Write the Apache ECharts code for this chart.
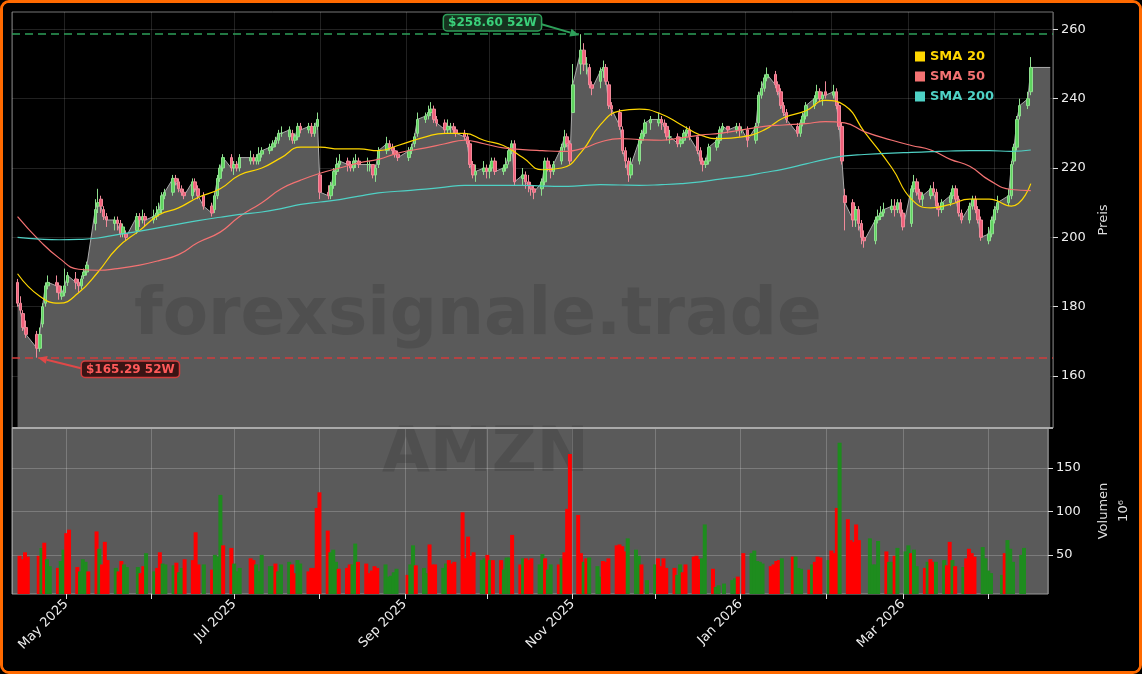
<!DOCTYPE html>
<html><head><meta charset="utf-8">
<script src="https://cdn.jsdelivr.net/npm/echarts@6/dist/echarts.min.js"></script>
<style>
html,body{margin:0;padding:0;background:#000;}
#wrap{width:1142px;height:674px;box-sizing:border-box;border:3px solid #ff6a00;border-radius:9px;background:#000;overflow:hidden;position:relative;}
#c{position:absolute;left:-3px;top:-3px;width:1142px;height:674px;}
</style></head><body>
<div id="wrap"><div id="c"></div></div>
<script>
// ---- data ----
const startDate = '2025-04-14', endDate = '2026-04-14';
const holidays = ['2025-04-18','2025-05-26','2025-06-19','2025-07-04','2025-09-01','2025-11-27','2025-12-25','2026-01-01','2026-01-19','2026-02-16','2026-04-03'];
const labelMonths = [0,2,4,6,8,10]; // Jan, Mar, May, Jul, Sep, Nov
const priceTicks = [160,180,200,220,240,260];
const volTicks = [50,100,150];

const closes = [
181,179,174,172,168,172,180,186,187,186,184,184,
186,189,187,186,188,190,192,208,210,209,206,205,205,204,201,203,200,206,205,206,205,
206,207,208,212,213,217,216,214,213,212,216,214,212,209,207,212,217,220,223,220,
221,220,223,223,222,223,224,225,226,227,228,230,230,231,228,229,232,231,232,230,232,234,
213,212,215,219,221,222,221,220,222,222,221,221,221,218,220,225,227,226,225,224,223,
225,226,229,234,235,236,237,234,233,231,232,232,231,230,229,227,221,218,219,220,219,
220,222,219,220,221,225,227,216,218,216,215,214,213,216,222,220,219,221,226,229,227,222,244,
254,250,250,244,243,248,249,245,238,237,232,225,222,218,221,228,230,233,234,
234,233,232,229,229,227,228,230,231,229,225,222,221,222,226,228,231,232,231,232,231,231,
228,232,241,243,246,247,244,242,238,236,234,230,233,235,238,240,242,240,241,241,
242,238,232,222,210,205,208,204,200,199,205,206,207,208,209,208,210,207,203,
214,216,213,211,212,214,213,209,208,210,212,214,211,207,205,209,211,208,205,200,201,205,
208,210,212,221,226,234,238,240,249];
const opens = [
187,181,178,174,172,168,175,181,186,187,186,183,
184,187,188,187,186,189,190,204,209,211,208,206,204,205,204,201,201,202,206,205,206,
205,206,207,208,212,213,217,216,214,213,212,216,214,212,209,208,212,217,220,223,
220,221,220,222,223,222,222,224,225,226,227,228,230,229,230,228,229,232,231,232,230,232,
218,213,212,215,219,221,222,221,220,222,222,221,221,221,218,221,225,227,226,225,224,
223,225,227,230,234,235,236,237,234,233,231,232,232,231,230,229,227,221,218,219,220,
219,220,222,219,220,222,225,227,217,218,216,215,214,214,216,222,220,219,222,226,229,227,236,
250,254,250,249,244,245,248,249,244,238,236,231,225,222,218,222,228,230,233,
233,234,233,232,229,229,227,228,230,231,229,225,222,221,222,226,228,231,232,231,232,231,
231,228,233,241,243,246,247,244,242,238,236,232,230,233,235,238,240,242,240,242,
241,242,238,232,212,210,205,208,204,200,199,205,206,207,208,209,208,210,207,
204,214,216,213,211,212,214,213,209,208,210,212,214,211,207,205,209,211,208,205,199,201,
205,208,210,212,222,226,235,238,242];
const highs = [
188,183,179,176,173,174,181,187,189,189,187,186,
191,190,190,188,189,191,193,211,214,212,209,207,206,206,205,204,202,207,207,208,207,
208,209,210,213,214,218,218,217,215,214,217,217,215,213,210,213,218,221,224,224,
222,222,224,225,224,224,226,226,227,228,229,231,232,232,231,230,233,233,233,233,233,236,
219,215,216,220,223,224,223,222,223,224,223,223,222,221,221,226,229,228,227,226,225,
226,227,230,236,236,238,239,238,235,234,234,233,233,232,231,230,228,222,221,222,221,
221,223,223,221,223,226,228,228,220,219,218,216,215,217,223,223,221,222,227,231,230,228,250,
258.6,256,252,250,245,249,251,250,245,239,237,232,226,223,223,229,231,234,235,
236,235,234,233,231,230,229,231,232,232,229,226,223,223,227,229,232,233,232,233,233,232,
232,233,242,245,247,249,248,245,243,239,237,233,234,236,239,241,244,243,242,245,
244,243,239,233,214,211,209,209,205,202,206,208,209,210,211,211,211,211,208,
215,218,217,214,213,215,216,214,210,211,213,215,215,212,208,210,212,212,209,206,203,206,
209,212,214,222,227,235,240,242,252];
const lows = [
180,178,173,171,165.29,167,174,180,185,184,182,182,
183,186,185,184,185,188,189,202,207,207,205,203,202,202,200,200,199,201,203,204,203,
204,205,206,207,211,212,215,213,212,211,211,213,211,208,206,207,211,216,219,219,
218,219,219,221,221,221,221,223,224,225,226,227,229,228,227,227,228,230,230,229,229,231,
211,211,211,214,218,220,219,219,219,220,220,219,219,217,216,220,224,225,224,223,222,
222,224,226,229,233,234,235,233,232,230,230,230,230,229,228,226,220,217,216,218,217,
217,219,218,218,219,221,224,215,215,214,213,212,211,212,215,219,217,218,221,225,226,221,236,
247,248,247,243,241,243,246,244,237,235,231,224,220,216,217,221,227,229,231,
232,231,230,228,227,226,226,227,229,228,224,221,219,220,221,225,227,230,230,230,229,230,
226,227,232,240,242,245,243,241,237,235,233,229,229,232,234,237,239,239,238,240,
240,237,231,221,202,203,203,202,198,197,198,204,205,206,207,206,207,206,202,
203,213,212,210,209,211,212,208,206,207,209,211,210,206,204,204,208,207,204,199,198,200,
204,207,209,211,221,225,234,237,241];
const volumes = [
49,45,53,48,49,58,64,45,37,35,43,56,
75,79,36,31,45,42,31,77,57,39,65,44,35,31,43,39,36,36,29,37,52,
31,35,53,40,39,38,41,30,35,45,44,76,39,39,33,50,48,119,61,58,
40,31,35,46,44,39,31,50,37,37,40,31,39,42,39,29,44,40,31,35,35,104,
122,78,53,56,42,34,35,39,39,63,42,40,29,32,37,35,39,25,26,30,34,
27,39,61,38,35,29,62,39,39,35,40,44,40,42,99,46,71,49,53,44,46,
50,44,44,44,33,47,47,73,39,46,46,44,46,39,51,46,33,39,39,46,53,103,166,
96,52,42,46,47,37,25,43,42,46,61,62,60,54,69,56,49,39,21,
39,46,37,46,35,35,27,39,30,39,48,49,45,46,85,34,13,15,17,21,23,25,
52,52,55,43,42,40,37,39,43,44,46,48,48,35,34,33,39,42,48,47,
44,55,52,104,179,91,67,65,85,67,69,39,39,66,54,42,42,49,58,
54,61,52,56,37,35,42,45,42,42,44,38,65,44,37,36,46,57,52,48,59,46,
32,29,27,52,67,57,42,50,58];
const volDir = 'rrrrrgrggrgg'+'rrrgggrrgrrrgrrgggrrg'+'grrgggrggrrrrgrgggrr'+'gggrrgggggrgggrrggrrrr'+
  'rrgggrrrggrrrrrrggggg'+'rggrggrrrggrrrrrrrrgg'+'rgrrgggrrgrrrggrggrgrrr'+'rrgrgggrrrrrrrgggrg'+
  'grrrrrggrrrrrggrgggggr'+'rgggggrrrrgrgggrgrrr'+'grrrgrrrrrggggrggrg'+'ggrggrgrrggrrgrgrrrrgg'+'gggrggggg';
// SMAs sampled every 5 trading days (index 0,5,...,250)
const sma20 = [189.5,183,181,184,190,197,202,206.5,208.5,211.5,214,218,220,223,226,226,225.5,225.5,225,226.5,229,230,230,228,226.5,223,219.5,220,224.5,232.5,236.5,237,235.5,232.5,229.5,228.5,229,231,234.5,236.5,239.5,238,230.5,220,211,208.5,209.5,211,211,209,215.5];
const sma50 = [206,199,194,190.8,190.5,191,192,193.3,195,198.5,201.5,206,210,214,216.5,218.5,220,221.5,222.5,224.3,225.8,227,228,227,225.8,225.3,225,224.8,225.5,227.5,228.5,228.2,228,228.7,229.5,230,231,232,232.4,232.8,233.4,233,230.5,228,226.5,225.2,222.5,220.5,216.5,213.8,213.5];
const sma200 = [200,199.5,199.3,199.4,199.8,200.8,201.8,202.8,203.8,204.8,205.8,206.6,207.3,208.3,209.5,210.2,210.9,211.9,212.8,213.3,213.9,214.5,215,215,215,215,214.8,214.7,214.9,215.2,215.1,215,215.2,215.5,216,216.8,217.6,218.7,219.7,221.2,222.5,223.5,223.9,224.3,224.5,224.7,224.9,225,225,224.8,225.2];
const high52 = 258.60, low52 = 165.29;
const areaTailDate = '2026-04-21';

// ---- build ----
function fmt(d){return d.getUTCFullYear()+'-'+String(d.getUTCMonth()+1).padStart(2,'0')+'-'+String(d.getUTCDate()).padStart(2,'0');}
const dates=[];
for(let d=new Date(startDate+'T00:00:00Z'); fmt(d)<=endDate; d.setUTCDate(d.getUTCDate()+1)){
  const w=d.getUTCDay(); const s=fmt(d);
  if(w===0||w===6||holidays.includes(s)) continue; dates.push(s);
}
const n=Math.min(dates.length,closes.length);
const candle=[],area=[],vol=[];
for(let i=0;i<n;i++){
  candle.push([dates[i],opens[i],closes[i],lows[i],highs[i]]);
  area.push([dates[i],closes[i]]);
  vol.push({value:[dates[i],volumes[i]],itemStyle:{color:volDir[i]==='g'?'#1e8c1e':'#ff0000'}});
}
area.push([areaTailDate,closes[n-1]]);
function smaPts(a){const r=[];a.forEach((v,k)=>{const i=Math.min(k*5,n-1);r.push([dates[i],v]);});return r;}
const ts=s=>new Date(s+'T00:00:00').getTime();
const MON=['Jan','Feb','Mar','Apr','May','Jun','Jul','Aug','Sep','Oct','Nov','Dec'];
const DAY=864e5;

const chart=echarts.init(document.getElementById('c'));
const xCommon={type:'time',min:ts('2025-04-12'),max:ts('2026-04-22'),minInterval:28*DAY,maxInterval:31*DAY,splitNumber:12,
  axisLine:{show:false}};
chart.setOption({
  backgroundColor:'#000',
  animation:false,
  textStyle:{fontFamily:'DejaVu Sans'},
  grid:[{left:12,top:12,width:1041,height:416,show:true,borderColor:'#777',borderWidth:1},
        {left:12,top:428,width:1041,height:166,show:true,borderColor:'#999',borderWidth:1,backgroundColor:'#5a5a5a'}],
  legend:{orient:'vertical',left:910,top:45,itemWidth:10,itemHeight:10,itemGap:7,icon:'rect',
    data:[{name:'SMA 20',textStyle:{color:'#ffd700'}},{name:'SMA 50',textStyle:{color:'#f47272'}},{name:'SMA 200',textStyle:{color:'#4fd1c5'}}],
    textStyle:{fontWeight:'bold',fontSize:13,fontFamily:'DejaVu Sans'}},
  xAxis:[Object.assign({},xCommon,{gridIndex:0,axisLabel:{show:false},axisTick:{show:false},splitLine:{show:true,lineStyle:{color:'rgba(255,255,255,0.13)'}}}),
         Object.assign({},xCommon,{gridIndex:1,splitLine:{show:true,lineStyle:{color:'rgba(255,255,255,0.2)'}},
           axisTick:{show:true,length:5,lineStyle:{color:'#ddd'}},
           axisLabel:{color:'#eee',fontSize:13,rotate:45,margin:8,hideOverlap:false,showMinLabel:false,showMaxLabel:false,
             formatter:v=>{const d=new Date(v);return (d.getDate()===1&&labelMonths.includes(d.getMonth()))?MON[d.getMonth()]+' '+d.getFullYear():'';}}})],
  yAxis:[{gridIndex:0,position:'right',min:145,max:265,
      axisLine:{show:false},
      axisTick:{show:true,length:5,lineStyle:{color:'#ddd'},customValues:priceTicks},
      axisLabel:{color:'#eee',fontSize:13,margin:8,customValues:priceTicks},
      splitLine:{show:true,lineStyle:{color:'rgba(255,255,255,0.13)'}},
      name:'Preis',nameLocation:'middle',nameRotate:90,nameGap:40,nameTextStyle:{color:'#ddd',fontSize:13}},
    {gridIndex:1,position:'right',min:5,max:196,
      axisLine:{show:false},
      axisTick:{show:true,length:5,lineStyle:{color:'#ddd'},customValues:volTicks},
      axisLabel:{color:'#eee',fontSize:13,margin:8,customValues:volTicks},
      splitLine:{show:true,lineStyle:{color:'rgba(255,255,255,0.2)'}},
      name:'Volumen\n10⁶',nameLocation:'middle',nameRotate:90,nameGap:46,nameTextStyle:{color:'#ddd',fontSize:13,lineHeight:20}}],
  series:[
    {type:'line',name:'Close',xAxisIndex:0,yAxisIndex:0,data:area,symbol:'none',z:1,
      lineStyle:{color:'#aaaaaa',width:1},areaStyle:{color:'#5a5a5a',opacity:1,origin:'start'},
      markLine:{silent:true,symbol:'none',label:{show:false},
        data:[{yAxis:high52,lineStyle:{color:'#2ea05a',type:[8,5],width:1.5}},{yAxis:low52,lineStyle:{color:'#d23c3c',type:[8,5],width:1.5}}]}},
    {type:'candlestick',name:'AMZN',xAxisIndex:0,yAxisIndex:0,data:candle,encode:{x:0,y:[1,2,3,4]},barWidth:3,z:3,
      itemStyle:{color:'#5fd45f',color0:'#f0607a',borderColor:'#8fdf8f',borderColor0:'#f08a9a',borderWidth:1}},
    {type:'line',name:'SMA 20',data:smaPts(sma20),smooth:true,symbol:'none',color:'#ffd700',lineStyle:{width:1.2,color:'#ffd700'},z:4},
    {type:'line',name:'SMA 50',data:smaPts(sma50),smooth:true,symbol:'none',color:'#f47272',lineStyle:{width:1.2,color:'#f47272'},z:4},
    {type:'line',name:'SMA 200',data:smaPts(sma200),smooth:true,symbol:'none',color:'#4fd1c5',lineStyle:{width:1.2,color:'#4fd1c5'},z:4},
    {type:'bar',name:'Vol',xAxisIndex:1,yAxisIndex:1,data:vol,barWidth:4}
  ]
});

// annotations & watermarks
const ph=chart.convertToPixel({xAxisIndex:0,yAxisIndex:0},['2025-11-03',high52]);
const pl=chart.convertToPixel({xAxisIndex:0,yAxisIndex:0},['2025-04-21',low52]);
function arrow(x1,y1,x2,y2,color){
  const a=Math.atan2(y2-y1,x2-x1),L=9,W=4;
  const bx=x2-L*Math.cos(a),by=y2-L*Math.sin(a);
  return [{type:'line',shape:{x1,y1,x2:bx,y2:by},style:{stroke:color,lineWidth:2},z:20},
    {type:'polygon',shape:{points:[[x2,y2],[bx+W*Math.sin(a),by-W*Math.cos(a)],[bx-W*Math.sin(a),by+W*Math.cos(a)]]},style:{fill:color},z:20}];
}
const hx=ph[0]-137, hy=ph[1]-19, lx=pl[0]+45, ly=pl[1]+4;
chart.setOption({graphic:[
  {type:'text',x:134,y:284,style:{text:'forexsignale.trade',font:'bold 66px "DejaVu Sans"',fill:'rgba(0,0,0,0.12)'},z:2},
  {type:'text',x:382,y:424,style:{text:'AMZN',font:'bold 62px "DejaVu Sans"',fill:'rgba(0,0,0,0.12)'},z:2},
  {type:'line',shape:{x1:12,y1:428,x2:1053,y2:428},style:{stroke:'#aaa',lineWidth:2},z:10},
  {type:'text',x:hx,y:hy,style:{text:'$258.60 52W',font:'bold 12px "DejaVu Sans"',fill:'#3ad07a',backgroundColor:'#16331f',borderColor:'#2ea05a',borderWidth:1.5,borderRadius:3,padding:[2,4,1,4]},z:21},
  ...arrow(hx+94,hy+8,ph[0]-2,ph[1]+1,'#2ea05a'),
  {type:'text',x:lx,y:ly,style:{text:'$165.29 52W',font:'bold 12px "DejaVu Sans"',fill:'#ff5a5a',backgroundColor:'#3a1414',borderColor:'#d23c3c',borderWidth:1.5,borderRadius:3,padding:[2,4,1,4]},z:21},
  ...arrow(lx+1,ly+7,pl[0]+1,pl[1],'#e04848')
]});
</script></body></html>
